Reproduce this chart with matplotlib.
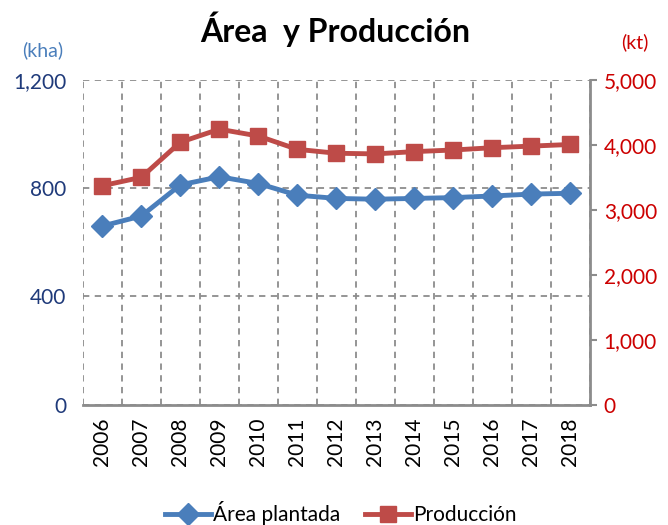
import numpy as np
import matplotlib.pyplot as plt
from matplotlib.lines import Line2D

years = ["2006", "2007", "2008", "2009", "2010", "2011", "2012",
         "2013", "2014", "2015", "2016", "2017", "2018"]
area_kha = [660, 697, 812, 842, 817, 774, 762, 759, 762, 765, 771, 778, 781]
prod_kt = [3370, 3500, 4040, 4240, 4135, 3930, 3870, 3860, 3895, 3920, 3955, 3980, 4005]

BLUE = "#4a7ebb"
RED = "#be4b48"
NAVY = "#1f3a7a"
DARKRED = "#cc0000"
GRID = "#8c8c8c"

plt.rcParams['font.family'] = ['Lato', 'DejaVu Sans']

fig = plt.figure(figsize=(6.68, 5.25), dpi=100)
ax = fig.add_axes([0.124, 0.229, 0.759, 0.619])
ax2 = ax.twinx()

x = np.arange(len(years)) + 0.5

ax.plot(x, area_kha, color=BLUE, lw=3.5, marker="D", ms=11, zorder=3)
ax2.plot(x, prod_kt, color=RED, lw=3.5, marker="s", ms=11, zorder=3)

ax.set_xlim(0, len(years))
ax.set_ylim(0, 1200)
ax2.set_ylim(0, 5000)

ax.set_xticks(x)
ax.set_xticklabels(years, rotation=90, fontsize=15)
ax.set_xticks(np.arange(len(years) + 1), minor=True)
ax.tick_params(axis="x", which="both", length=0, pad=9)
ax.grid(True, which="minor", axis="x", color=GRID, ls=(0, (3.5, 3)), lw=1.3)

ax.set_yticks([0, 400, 800, 1200])
ax.set_yticklabels(["0", "400", "800", "1,200"], color=NAVY, fontsize=15)
ax.tick_params(axis="y", length=0, pad=12)
ax.grid(True, which="major", axis="y", color=GRID, ls=(0, (3.5, 3)), lw=1.3)

ax2.set_yticks([0, 1000, 2000, 3000, 4000, 5000])
ax2.set_yticklabels(["0", "1,000", "2,000", "3,000", "4,000", "5,000"],
                    color=DARKRED, fontsize=15)
ax2.tick_params(axis="y", length=5, width=1.5, color=GRID, pad=5)

for a in (ax, ax2):
    for s in a.spines.values():
        s.set_visible(False)
ax2.spines["right"].set_visible(True)
ax2.spines["right"].set_color(GRID)
ax2.spines["right"].set_linewidth(2)
ax2.spines["bottom"].set_visible(True)
ax2.spines["bottom"].set_color(GRID)
ax2.spines["bottom"].set_linewidth(2)

fig.text(0.502, 0.945, "Área  y Producción", ha="center", va="center",
         fontsize=23, fontweight="bold")
fig.text(0.064, 0.905, "(kha)", ha="center", va="center", color=BLUE, fontsize=14)
fig.text(0.951, 0.92, "(kt)", ha="center", va="center", color=DARKRED, fontsize=14)

handles = [Line2D([], [], color=BLUE, lw=3.5, marker="D", ms=11),
           Line2D([], [], color=RED, lw=3.5, marker="s", ms=11)]
fig.legend(handles, ["Área plantada", "Producción"], loc="center",
           bbox_to_anchor=(0.51, 0.022), ncol=2, frameon=False, fontsize=15,
           handlelength=2.2, handletextpad=0.1, columnspacing=1.2)

fig.savefig("out.png", dpi=100)
